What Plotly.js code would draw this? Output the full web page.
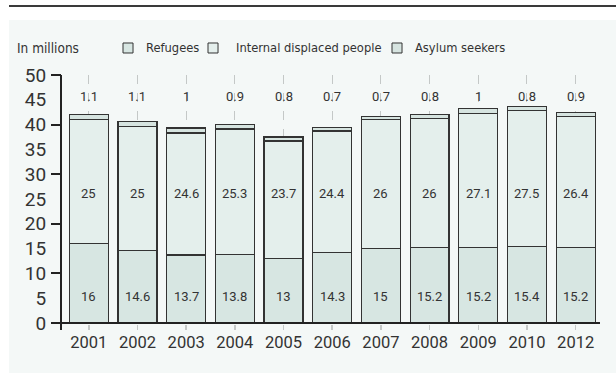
<!DOCTYPE html>
<html>
<head>
<meta charset="utf-8">
<script src="https://cdn.plot.ly/plotly-3.0.1.min.js"></script>
<style>
  html, body { margin: 0; padding: 0; background: #ffffff; width: 616px; height: 378px; overflow: hidden; }
  #topline { position: absolute; left: 9px; top: 5px; width: 607px; height: 2px; background: #3a3a3a; }
  #chart { position: absolute; left: 9px; top: 20px; width: 607px; height: 353px; }
</style>
</head>
<body>
<div id="topline"></div>
<div id="chart"></div>
<script>
const years = ['2001','2002','2003','2004','2005','2006','2007','2008','2009','2010','2012'];
const refugees = [16, 14.6, 13.7, 13.8, 13, 14.3, 15, 15.2, 15.2, 15.4, 15.2];
const internalDisplaced = [25, 25, 24.6, 25.3, 23.7, 24.4, 26, 26, 27.1, 27.5, 26.4];
const asylumSeekers = [1.1, 1.1, 1, 0.9, 0.8, 0.7, 0.7, 0.8, 1, 0.8, 0.9];
const seriesNames = ['Refugees', 'Internal displaced people', 'Asylum seekers'];
const seriesColors = ['#d7e6e2', '#e4efec', '#d6e4e0'];
const yLabelTicks = [0, 5, 10, 15, 20, 25, 30, 35, 40, 45, 50];
const yMarkTicks = [0, 10, 20, 30, 40, 50];

const lineStyle = { color: '#333333', width: 1.2 };
const condensed = '"Liberation Sans Narrow", "DejaVu Sans Condensed", Roboto, sans-serif';
const mainFont = 'Roboto, "Noto Sans", sans-serif';
const panel = '#f4f8f7';

const seriesData = [refugees, internalDisplaced, asylumSeekers];
const traces = seriesData.map((arr, s) => ({
  type: 'bar', name: seriesNames[s], x: years, y: arr,
  marker: { color: seriesColors[s], line: lineStyle }, hoverinfo: 'skip', showlegend: false
}));
traces.push({ type: 'scatter', mode: 'markers', x: [years[0]], y: [0], yaxis: 'y2',
  marker: { opacity: 0 }, showlegend: false, hoverinfo: 'skip' });

const annotations = [];
const labelLevels = [5.4, 26.2, 45.6];
seriesData.forEach((arr, s) => {
  arr.forEach((v, i) => {
    annotations.push({ x: i, y: labelLevels[s], xref: 'x', yref: 'y', text: String(v),
      showarrow: false, font: { family: mainFont, size: 13, color: '#333333' } });
  });
});
annotations.push({ x: -0.0874, y: 1.1059, xref: 'paper', yref: 'paper', xanchor: 'left', yanchor: 'middle',
  text: 'In millions', showarrow: false, font: { family: condensed, size: 13.5, color: '#333333' } });

// hand-placed legend (boxes + labels)
const legendBoxX = [0.1134, 0.2714, 0.6134];
const legendTextX = [0.1525, 0.3198, 0.6525];
const shapes = [];
seriesNames.forEach((nm, s) => {
  shapes.push({ type: 'rect', xref: 'paper', yref: 'paper',
    x0: legendBoxX[s], x1: legendBoxX[s] + 0.0186, y0: 1.0863, y1: 1.1255,
    fillcolor: seriesColors[s], line: { color: '#333333', width: 1 } });
  annotations.push({ x: legendTextX[s], y: 1.1059, xref: 'paper', yref: 'paper', xanchor: 'left', yanchor: 'middle',
    text: nm, showarrow: false, font: { family: condensed, size: 12.8, color: '#333333' } });
});
// x axis baseline extending slightly left of the y axis
shapes.push({ type: 'line', xref: 'paper', yref: 'y', x0: -0.01, x1: 1, y0: 0, y1: 0,
  line: { color: '#222222', width: 2 } });

const layout = {
  width: 607, height: 353,
  margin: { l: 53, r: 16, t: 55, b: 43 },
  paper_bgcolor: panel, plot_bgcolor: 'rgba(0,0,0,0)',
  barmode: 'stack', bargap: 0.2,
  showlegend: false,
  xaxis: { type: 'category', range: [-0.55, 10.5], showline: false, zeroline: false,
    showgrid: true, gridcolor: '#c4c8c7', griddash: 'dash', gridwidth: 1,
    ticks: 'inside', ticklen: 5, tickcolor: '#c4c8c7', tickwidth: 1.5,
    tickfont: { family: mainFont, size: 16.5, color: '#333333' } },
  yaxis: { range: [-1.4, 50], tickvals: yLabelTicks, showgrid: false,
    showline: true, linecolor: '#222222', linewidth: 2, zeroline: false,
    ticks: 'outside', ticklen: 10, tickcolor: 'rgba(0,0,0,0)',
    tickfont: { family: mainFont, size: 19, color: '#333333' } },
  yaxis2: { overlaying: 'y', side: 'left', range: [-1.4, 50], tickvals: yMarkTicks,
    showticklabels: false, showgrid: false, zeroline: false, showline: false,
    ticks: 'outside', ticklen: 10, tickcolor: '#222222', tickwidth: 2 },
  shapes: shapes,
  annotations: annotations
};

Plotly.newPlot('chart', traces, layout, { displayModeBar: false, staticPlot: true });
</script>
</body>
</html>
